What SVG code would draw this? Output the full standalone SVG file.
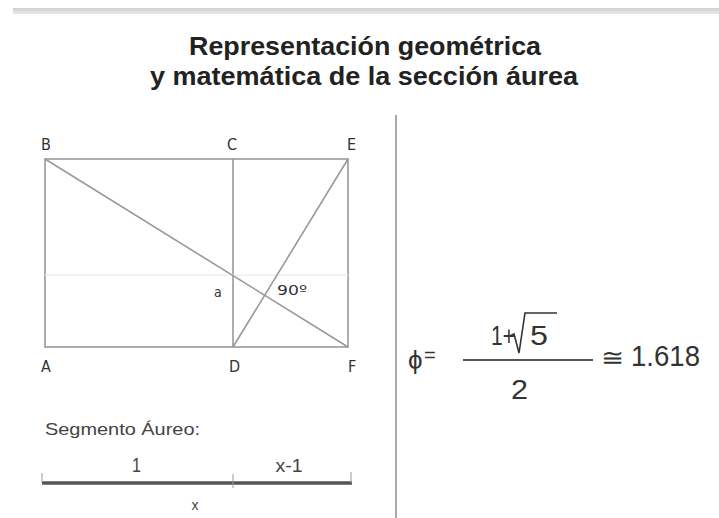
<svg xmlns="http://www.w3.org/2000/svg" width="719" height="518" viewBox="0 0 719 518">
<defs>
<linearGradient id="bar" x1="0" y1="0" x2="0" y2="1">
<stop offset="0" stop-color="#cfd2d4"/>
<stop offset="1" stop-color="#e6e8e9"/>
</linearGradient>
<style>
.t{font-family:"Liberation Sans",Arial,sans-serif;fill:#222}
.title{font-size:25px;font-weight:bold}
.lbl{font-family:"DejaVu Sans Condensed","Liberation Sans",sans-serif;font-size:16px;fill:#333}
.g{stroke:#999;stroke-width:1.6;fill:none}
.f{font-size:27px}
.tick{stroke:#999;stroke-width:1}
</style>
</defs>
<rect width="719" height="518" fill="#fff"/>
<rect x="13" y="8" width="706" height="6" fill="url(#bar)"/>
<g id="title">
<text class="t title" x="189" y="55" textLength="352" lengthAdjust="spacingAndGlyphs">Representación geométrica</text>
<text class="t title" x="150" y="85" textLength="428" lengthAdjust="spacingAndGlyphs">y matemática de la sección áurea</text>
</g>
<line x1="396" y1="115" x2="396" y2="518" stroke="#a8a8a8" stroke-width="2"/>
<g id="figure">
<rect class="g" x="45" y="159" width="303" height="188"/>
<line class="g" x1="233" y1="159" x2="233" y2="347"/>
<line x1="45" y1="275" x2="348" y2="275" stroke="#eeeeee" stroke-width="1.5"/>
<line class="g" x1="45" y1="159" x2="348" y2="347"/>
<line class="g" x1="233" y1="347" x2="348" y2="159"/>
<text class="lbl" x="41" y="150">B</text>
<text class="lbl" x="227" y="150">C</text>
<text class="lbl" x="347" y="150">E</text>
<text class="lbl" x="41" y="372">A</text>
<text class="lbl" x="229" y="372">D</text>
<text class="lbl" x="348" y="372">F</text>
<text class="lbl" x="214" y="297" style="font-size:14px">a</text>
<text class="lbl" x="277" y="295" style="font-size:14px" textLength="30" lengthAdjust="spacingAndGlyphs">90º</text>
</g>
<g id="segment">
<text class="t" x="45" y="435" style="font-size:17px;fill:#444" textLength="155" lengthAdjust="spacingAndGlyphs">Segmento Áureo:</text>
<line x1="42" y1="483" x2="352" y2="483" stroke="#555" stroke-width="3.5"/>
<line class="tick" x1="42" y1="473" x2="42" y2="483"/>
<line class="tick" x1="233" y1="474" x2="233" y2="488"/>
<line class="tick" x1="351" y1="472" x2="351" y2="483"/>
<text class="t" x="132" y="472" style="font-size:21px;fill:#444" textLength="9" lengthAdjust="spacingAndGlyphs">1</text>
<text class="t" x="289" y="472" style="font-size:19px;text-anchor:middle;fill:#444" textLength="27" lengthAdjust="spacingAndGlyphs">x-1</text>
<text class="t" x="195" y="510" style="font-size:14px;text-anchor:middle;fill:#444">x</text>
</g>
<g id="formula">
<text class="t" x="408" y="369" style="font-size:26px;fill:#333">ϕ</text>
<text class="t" x="424" y="362" style="font-size:20px;fill:#333">=</text>
<line x1="463" y1="360" x2="593" y2="360" stroke="#555" stroke-width="2"/>
<text class="t f" x="491" y="345" style="fill:#333" textLength="24" lengthAdjust="spacingAndGlyphs">1+</text>
<path d="M510 336 L514 334 L519 353 L525 313 L557 313" fill="none" stroke="#333" stroke-width="1.6"/>
<text class="t f" x="530" y="345" style="fill:#333" textLength="18" lengthAdjust="spacingAndGlyphs">5</text>
<text class="t f" x="511" y="399" style="fill:#333" textLength="17" lengthAdjust="spacingAndGlyphs">2</text>
<text class="t" x="601" y="366" style="font-size:24px;fill:#333" textLength="23" lengthAdjust="spacingAndGlyphs">≅</text>
<text class="t" x="631" y="366" style="font-size:29px;fill:#333" textLength="69" lengthAdjust="spacingAndGlyphs">1.618</text>
</g>
</svg>
